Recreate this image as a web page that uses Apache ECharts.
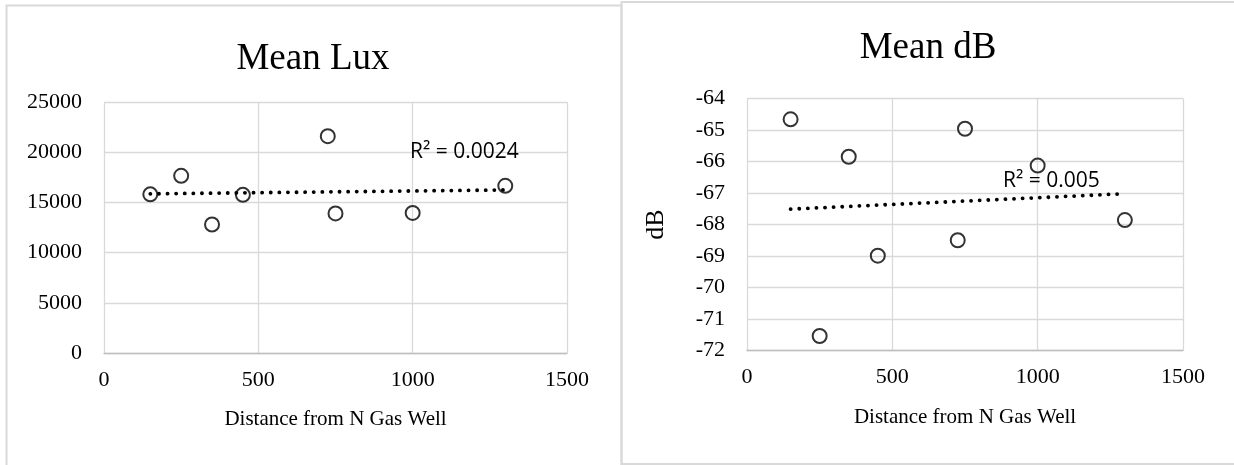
<!DOCTYPE html>
<html>
<head>
<meta charset="utf-8">
<script src="https://cdn.jsdelivr.net/npm/echarts@6/dist/echarts.min.js"></script>
<style>
html,body{margin:0;padding:0;background:#fff;}
#c{width:1234px;height:465px;}
</style>
</head>
<body>
<div id="c"></div>
<script>
// ---- data ----
const distance = [150, 250, 350, 450, 725, 750, 1000, 1300];
const meanLux  = [15800, 17650, 12800, 15750, 21600, 13900, 13950, 16650];
const meanDb   = [-64.66, -71.54, -65.85, -68.99, -68.50, -64.96, -66.13, -67.86];
const luxTitle = 'Mean Lux';
const dbTitle = 'Mean dB';
const xName = 'Distance from N Gas Well';
const dbAxisName = 'dB';
const luxR2 = 'R² = 0.0024';
const dbR2 = 'R² = 0.005';

function pairs(xs, ys){ return xs.map((x,i)=>[x, ys[i]]); }
function trend(xs, ys){
  const n = xs.length;
  const mx = xs.reduce((a,b)=>a+b,0)/n, my = ys.reduce((a,b)=>a+b,0)/n;
  let sxy=0, sxx=0;
  for(let i=0;i<n;i++){ sxy+=(xs[i]-mx)*(ys[i]-my); sxx+=(xs[i]-mx)*(xs[i]-mx); }
  const b = sxy/sxx, a = my - b*mx;
  const x0 = Math.min(...xs), x1 = Math.max(...xs);
  return [[x0, a+b*x0],[x1, a+b*x1]];
}

const SERIF = '"Liberation Serif", "DejaVu Serif", serif';
const SANS = '"Open Sans", "Liberation Sans", sans-serif';
const grid = '#d9d9d9';
const plain = v => String(v);

function xAx(gi){
  return {
    type:'value', gridIndex:gi, min:0, max:1500, interval:500,
    name:xName, nameLocation:'middle', nameGap:56,
    nameTextStyle:{fontFamily:SERIF, fontSize:21, color:'#000'},
    axisLine:{show:true, lineStyle:{color:'#bfbfbf', width:1.3}},
    axisTick:{show:false},
    axisLabel:{fontFamily:SERIF, fontSize:22, color:'#000', margin:16, formatter:plain},
    splitLine:{show:true, lineStyle:{color:grid, width:1.3}}
  };
}
function yAx(gi, min, max, interval, name){
  return {
    type:'value', gridIndex:gi, min:min, max:max, interval:interval,
    name:name||'', nameLocation:'middle', nameGap:78, nameRotate:90,
    nameTextStyle:{fontFamily:SERIF, fontSize:26, color:'#000'},
    axisLine:{show:false}, axisTick:{show:false},
    axisLabel:{fontFamily:SERIF, fontSize:22, color:'#000', margin:22, formatter:plain},
    splitLine:{show:true, lineStyle:{color:grid, width:1.3}}
  };
}
function scatter(gi, data){
  return {
    type:'scatter', xAxisIndex:gi, yAxisIndex:gi, data:data,
    symbol:'circle', symbolSize:14, z:3,
    itemStyle:{color:'rgba(0,0,0,0)', borderColor:'#000', borderWidth:2},
    emphasis:{disabled:true}
  };
}
function trendSeries(gi, data){
  return {
    type:'line', xAxisIndex:gi, yAxisIndex:gi, data:data,
    showSymbol:false, symbol:'none', silent:true, z:2,
    lineStyle:{color:'#000', width:3.8, type:[0.1, 8.5], cap:'round'}
  };
}

const chart = echarts.init(document.getElementById('c'), null, {renderer:'canvas'});
chart.setOption({
  animation:false,
  backgroundColor:'#fff',
  title:[
    {text:luxTitle, left:308, top:36, textAlign:'center',
     textStyle:{fontFamily:SERIF, fontSize:37, fontWeight:'normal', color:'#000'}},
    {text:dbTitle, left:923, top:25, textAlign:'center',
     textStyle:{fontFamily:SERIF, fontSize:37, fontWeight:'normal', color:'#000'}}
  ],
  grid:[
    {left:104, top:102, width:463, height:251},
    {left:747, top:98.5, width:436, height:252}
  ],
  xAxis:[xAx(0), xAx(1)],
  yAxis:[yAx(0,0,25000,5000), yAx(1,-72,-64,1,dbAxisName)],
  graphic:[
    {type:'rect', z:-1, shape:{x:6.5, y:5.5, width:615, height:480}, style:{fill:'none', stroke:'#d9d9d9', lineWidth:2}},
    {type:'rect', z:-1, shape:{x:621.5, y:2, width:700, height:462}, style:{fill:'none', stroke:'#d9d9d9', lineWidth:2}},
    {type:'text', z:5, left:410, top:142, style:{text:luxR2, font:'21px ' + SANS, fill:'#000'}},
    {type:'text', z:5, left:1003, top:171, style:{text:dbR2, font:'21px ' + SANS, fill:'#000'}}
  ],
  series:[
    trendSeries(0, trend(distance, meanLux)),
    scatter(0, pairs(distance, meanLux)),
    trendSeries(1, trend(distance, meanDb)),
    scatter(1, pairs(distance, meanDb))
  ]
});
</script>
</body>
</html>
